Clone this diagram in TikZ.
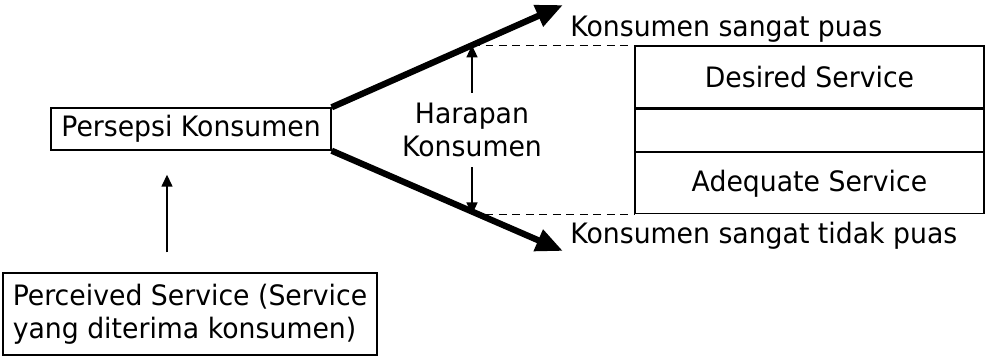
\documentclass[tikz,border=0pt]{standalone}
\usepackage{fontspec}
\setmainfont{DejaVu Sans}[FakeStretch=0.95]
\usetikzlibrary{arrows.meta}

\begin{document}
\begin{tikzpicture}[x=0.02cm, y=-0.02cm,
	every node/.style={font=\fontsize{16}{19}\selectfont},
	box/.style={draw, line width=0.8pt, inner sep=0pt},
	smallarrow/.style={line width=0.8pt, -{Triangle[length=2.4mm, width=2.2mm]}},
	bigarrow/.style={line width=3.6pt, -{Triangle[length=5.4mm, width=4.4mm]}},
	guide/.style={line width=0.9pt, dash pattern=on 1.6mm off 1.1mm}]
	\useasboundingbox (0,0) rectangle (985,358);
	\node[box, minimum width=5.6cm, minimum height=0.84cm] (persepsi) at (191,129) {Persepsi Konsumen};
	\node[box, minimum width=7.48cm, minimum height=1.64cm, align=left] (perceived) at (190,314) {Perceived Service (Service\\yang diterima konsumen)};
	\draw[smallarrow] ([shift={(-23,-20)}]perceived.north) -- ([shift={(-24,24)}]persepsi.south);
	% kotak layanan di kanan
	\node[box, minimum width=6.98cm, minimum height=1.24cm] (desired) at (809.5,77) {Desired Service};
	\node[box, minimum width=6.98cm, minimum height=0.84cm, anchor=north] (middle) at (desired.south) {};
	\node[box, minimum width=6.98cm, minimum height=1.22cm, anchor=north] (adequate) at (middle.south) {Adequate Service};
	\coordinate (puas) at (563,5);
	\coordinate (tidak) at (563,251);
	\coordinate (hx) at (472,0);
	\coordinate (hi) at (desired.north west -| hx);
	\coordinate (lo) at (adequate.south west -| hx);
	\draw[bigarrow] (persepsi.north east) -- (puas);
	\draw[bigarrow] (persepsi.south east) -- (tidak);
	\node[anchor=base west, inner sep=0pt] (puaslabel) at (570,37) {Konsumen sangat puas};
	\node[anchor=base west, inner sep=0pt] (tidaklabel) at (570,244) {Konsumen sangat tidak puas};
	\node[align=center, inner sep=0.2cm] (harapan) at (472,130) {Harapan\\Konsumen};
	\draw[smallarrow] (harapan) -- (hi);
	\draw[smallarrow] (harapan) -- (lo);
	\draw[guide] (hi) -- (desired.north west);
	\draw[guide] (lo) -- (adequate.south west);
\end{tikzpicture}
\end{document}
